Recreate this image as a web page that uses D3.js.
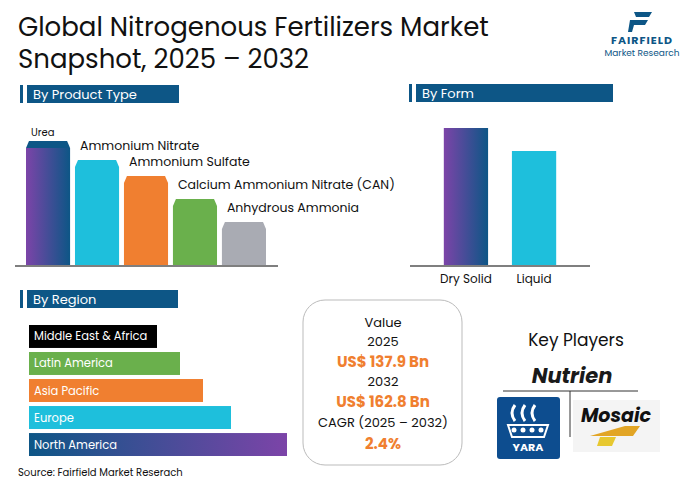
<!DOCTYPE html>
<html><head><meta charset="utf-8">
<script src="https://cdn.jsdelivr.net/npm/d3@7"></script>
<style>body{margin:0;background:#fff}svg{font-family:Poppins,"Noto Sans",sans-serif}</style>
</head><body>
<svg id="c" width="691" height="485"></svg>
<script>
const productTypes = ["Urea", "Ammonium Nitrate", "Ammonium Sulfate", "Calcium Ammonium Nitrate (CAN)", "Anhydrous Ammonia"];
const productValues = [124, 105, 89, 66, 43];
const productColors = ["url(#gPurple)", "#1ebfdc", "#f07f30", "#6ab04c", "#a9abb3"];
const productCaps = ["#0d5686", "#1ebfdc", "#f07f30", "#6ab04c", "#a9abb3"];
const forms = ["Dry Solid", "Liquid"];
const formValues = [137, 114];
const regions = ["Middle East & Africa", "Latin America", "Asia Pacific", "Europe", "North America"];
const regionValues = [128, 151, 174, 202, 258];
const regionColors = ["#000", "#6ab04c", "#f07f30", "#1ebfdc", "url(#gPurpleH)"];

const svg = d3.select("#c");
const defs = svg.append("defs");
const g1 = defs.append("linearGradient").attr("id", "gPurple");
g1.append("stop").attr("offset", 0).attr("stop-color", "#7c44a8");
g1.append("stop").attr("offset", 1).attr("stop-color", "#0d5686");
const g2 = defs.append("linearGradient").attr("id", "gPurpleH");
g2.append("stop").attr("offset", 0).attr("stop-color", "#0d5686");
g2.append("stop").attr("offset", 1).attr("stop-color", "#7c44a8");

// title
svg.append("text").attr("x", 18).attr("y", 36).attr("font-size", 26).attr("fill", "#111").text("Global Nitrogenous Fertilizers Market");
svg.append("text").attr("x", 18).attr("y", 68).attr("font-size", 26).attr("fill", "#111").text("Snapshot, 2025 \u2013 2032");

// logo
svg.append("path").attr("d", "M634 12 L652 12 L649 17 L636 17 Z M630 20 L648 20 L645 25 L634 25 L632 32 L628 32 Z").attr("fill", "#0d5686");
svg.append("text").attr("x", 642).attr("y", 44).attr("text-anchor", "middle").attr("font-size", 11).attr("font-weight", "bold").attr("letter-spacing", 1).attr("fill", "#0d5686").text("FAIRFIELD");
svg.append("text").attr("x", 642).attr("y", 56).attr("text-anchor", "middle").attr("font-size", 9).attr("fill", "#0d5686").text("Market Research");

function header(x, y, w, label) {
  svg.append("rect").attr("x", x).attr("y", y).attr("width", 3).attr("height", 18).attr("fill", "#0d5686");
  svg.append("rect").attr("x", x + 7).attr("y", y).attr("width", w - 7).attr("height", 18).attr("fill", "#0d5686");
  svg.append("text").attr("x", x + 13).attr("y", y + 14).attr("font-size", 13).attr("fill", "#fff").text(label);
}
header(20, 85, 159, "By Product Type");
header(409, 84, 204, "By Form");
header(20, 290, 158, "By Region");

// product type
const xP = d3.scaleBand().domain(productTypes).range([26, 266]).paddingInner(0.1).paddingOuter(0);
const yP = d3.scaleLinear().domain([0, 130]).range([265, 135]);
svg.append("line").attr("x1", 15).attr("x2", 278).attr("y1", 266).attr("y2", 266).attr("stroke", "#555").attr("stroke-width", 1.5);
productTypes.forEach((p, i) => {
  const x = xP(p), w = xP.bandwidth(), top = yP(productValues[i]);
  svg.append("rect").attr("x", x).attr("y", top + 7).attr("width", w).attr("height", 265 - top - 7).attr("fill", productColors[i]);
  svg.append("path").attr("d", `M${x} ${top + 7} L${x + 3} ${top} L${x + w - 3} ${top} L${x + w} ${top + 7} Z`).attr("fill", productCaps[i]);
  svg.append("text").attr("x", x + 5).attr("y", i === 0 ? top - 5 : top - 10)
    .attr("font-size", i === 0 ? 10 : 12.5).attr("fill", "#111").text(p);
});

// form
const xF = d3.scaleBand().domain(forms).range([437, 563]).paddingInner(0.35).paddingOuter(0.1);
const yF = d3.scaleLinear().domain([0, 137]).range([265, 128]);
svg.selectAll(".fb").data(forms).join("rect").attr("x", d => xF(d)).attr("width", xF.bandwidth())
  .attr("y", (d, i) => yF(formValues[i])).attr("height", (d, i) => 265 - yF(formValues[i]))
  .attr("fill", (d, i) => i === 0 ? "url(#gPurple)" : "#1ebfdc");
svg.append("line").attr("x1", 410).attr("x2", 590).attr("y1", 266).attr("y2", 266).attr("stroke", "#555").attr("stroke-width", 1.5);
forms.forEach(f => svg.append("text").attr("x", xF(f) + xF.bandwidth() / 2).attr("y", 283).attr("text-anchor", "middle").attr("font-size", 12).attr("fill", "#111").text(f));

// region
const yR = d3.scaleBand().domain(regions).range([325, 456]).paddingInner(0.15);
const xR = d3.scaleLinear().domain([0, 258]).range([29, 287]);
regions.forEach((r, i) => {
  svg.append("rect").attr("x", 29).attr("y", yR(r)).attr("width", xR(regionValues[i]) - 29).attr("height", yR.bandwidth()).attr("fill", regionColors[i]);
  svg.append("text").attr("x", 34).attr("y", yR(r) + yR.bandwidth() / 2 + 4).attr("font-size", 11.5).attr("fill", "#fff").text(r);
});

// center box
svg.append("rect").attr("x", 303).attr("y", 300).attr("width", 159).attr("height", 165).attr("rx", 22).attr("fill", "#fff").attr("stroke", "#bbb");
const lines = [["Value", 327, "#111", 13, "normal"], ["2025", 346, "#111", 13, "normal"], ["US$ 137.9 Bn", 367, "#f07f30", 15, "bold"],
  ["2032", 386, "#111", 13, "normal"], ["US$ 162.8 Bn", 407, "#f07f30", 15, "bold"], ["CAGR (2025 \u2013 2032)", 427, "#111", 13, "normal"], ["2.4%", 449, "#f07f30", 15, "bold"]];
lines.forEach(l => svg.append("text").attr("x", 383).attr("y", l[1]).attr("text-anchor", "middle").attr("fill", l[2]).attr("font-size", l[3]).attr("font-weight", l[4]).text(l[0]));

// key players
svg.append("text").attr("x", 576).attr("y", 346).attr("text-anchor", "middle").attr("font-size", 17).attr("fill", "#111").text("Key Players");
svg.append("text").attr("x", 572).attr("y", 383).attr("text-anchor", "middle").attr("font-size", 21).attr("font-weight", "bold").attr("font-style", "italic").attr("fill", "#1a1a1a").text("Nutrien");
svg.append("line").attr("x1", 503).attr("x2", 638).attr("y1", 391).attr("y2", 391).attr("stroke", "#333");
svg.append("line").attr("x1", 570).attr("x2", 570).attr("y1", 391).attr("y2", 437).attr("stroke", "#333");
svg.append("rect").attr("x", 497).attr("y", 397).attr("width", 63).attr("height", 62).attr("rx", 3).attr("fill", "#0d4d8f");
svg.append("text").attr("x", 528).attr("y", 451).attr("text-anchor", "middle").attr("font-size", 11).attr("font-weight", "bold").attr("fill", "#fff").text("YARA");
[0, 1, 2, 3].forEach(k => svg.append("circle").attr("cx", 514 + k * 9).attr("cy", 430).attr("r", 2.5).attr("fill", "#fff"));
svg.append("path").attr("d", "M508 425 L548 425 L544 437 L512 437 Z").attr("fill", "none").attr("stroke", "#fff").attr("stroke-width", 2);
[0, 1, 2].forEach(k => svg.append("path").attr("d", `M${515 + k * 10} 405 q-6 8 0 16`).attr("fill", "none").attr("stroke", "#fff").attr("stroke-width", 3));
svg.append("rect").attr("x", 573).attr("y", 400).attr("width", 87).attr("height", 52).attr("fill", "#f4f4f4");
svg.append("text").attr("x", 616).attr("y", 422).attr("text-anchor", "middle").attr("font-size", 19).attr("font-weight", "bold").attr("font-style", "italic").attr("fill", "#111").text("Mosaic");
svg.append("path").attr("d", "M590 436 L625 426 L640 426 L633 436 Z").attr("fill", "#e2a525");
svg.append("path").attr("d", "M597 446 L612 446 L616 437 L600 437 Z").attr("fill", "#e7c830");

svg.append("text").attr("x", 18).attr("y", 476).attr("font-size", 10).attr("fill", "#111").text("Source: Fairfield Market Reserach");
</script>
</body></html>
